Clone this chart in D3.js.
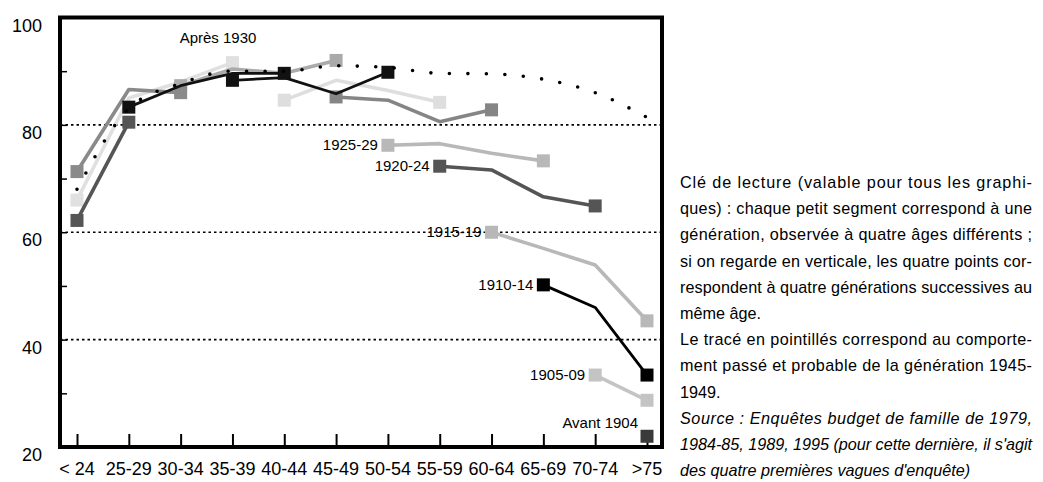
<!DOCTYPE html>
<html><head><meta charset="utf-8">
<script src="https://cdn.jsdelivr.net/npm/d3@7"></script>
<style>
html,body{margin:0;padding:0;background:#fff;}
svg{display:block;font-family:"Liberation Sans",Arial,sans-serif;}
</style></head>
<body><svg id="c" width="1043" height="482"></svg>
<script>
// ---- data ----
const ages = ["< 24","25-29","30-34","35-39","40-44","45-49","50-54","55-59","60-64","65-69","70-74",">75"];
const yTicks = [20,40,60,80,100];
const yMinor = [30,50,70,90];
const gridVals = [40,60,80];
const generations = ["Avant 1904","1905-09","1910-14","1915-19","1920-24","1925-29","1930-34","1935-39","1940-44","1945-49","1950-54","1955-59","1960-64","1965-69"];
const startAge = [11,10,9,8,7,6,5,4,3,2,1,0,0,0];
const genValues = [
  [22],
  [33.4,28.7],
  [50.2,46,33.4],
  [60,57,53.9,43.5],
  [72.3,71.6,66.6,64.9],
  [76.2,76.5,74.7,73.3],
  [85.2,84.6,80.6,82.8],
  [84.6,88.3,86.4,84.2],
  [88.3,88.8,85.8,89.8],
  [87.3,90.4,89.6,92],
  [83.3,87.3,89.6,89.6],
  [66,85,88,91.6],
  [71.3,86.6,86],
  [62.2,80.5]
];
const genColors = ["#3a3a3a","#c4c4c4","#000000","#b8b8b8","#555555","#b8b8b8","#858585","#dedede","#111111","#aaaaaa","#111111","#e0e0e0","#8a8a8a","#555555"];
const labelled = [true,true,true,true,true,true,false,false,false,false,false,false,false,false];
const dotted1945 = [68,83,87.7,90.0,90.0,91.0,90.7,89.6,89.5,88.5,86,81.4];
const groupLabel = "Après 1930";
const noteLines = [
  {t:"Clé de lecture (valable pour tous les graphi-", j:true, i:false},
  {t:"ques) : chaque petit segment correspond à une", j:true, i:false},
  {t:"génération, observée à quatre âges différents ;", j:true, i:false},
  {t:"si on regarde en verticale, les quatre points cor-", j:true, i:false},
  {t:"respondent à quatre générations successives au", j:true, i:false},
  {t:"même âge.", j:false, i:false},
  {t:"Le tracé en pointillés correspond au comporte-", j:true, i:false},
  {t:"ment passé et probable de la génération 1945-", j:true, i:false},
  {t:"1949.", j:false, i:false},
  {t:"Source : Enquêtes budget de famille de 1979,", j:true, i:true},
  {t:"1984-85, 1989, 1995 (pour cette dernière, il s'agit", j:true, i:true},
  {t:"des quatre premières vagues d'enquête)", j:false, i:true}
];

// ---- layout ----
const svg = d3.select("#c");
const L = 60, R = 662, T = 17.5, B = 447;
const x = d3.scalePoint().domain(ages).range([77, 647]);
const y = d3.scaleLinear().domain([20,100]).range([B, T]);

svg.append("rect").attr("width",1043).attr("height",482).attr("fill","#fff");

// gridlines
svg.append("g").selectAll("line").data(gridVals).join("line")
  .attr("x1",L).attr("x2",R).attr("y1",d=>y(d)).attr("y2",d=>y(d))
  .attr("stroke","#000").attr("stroke-width",1.6).attr("stroke-dasharray","2.5,3");

// y axis with minor ticks (inward)
const yAxis = d3.axisRight(y).tickValues(yTicks.concat(yMinor)).tickSize(7).tickFormat("");
const gy = svg.append("g").attr("transform",`translate(${L},0)`).call(yAxis);
gy.select(".domain").remove();
gy.selectAll("line").attr("stroke","#000").attr("stroke-width",1.5);

// y labels
svg.append("g").selectAll("text").data(yTicks).join("text")
  .attr("x",42).attr("y",d=>y(d)+14).attr("text-anchor","end")
  .attr("font-size",18).attr("fill","#000").text(d=>d);

// x axis ticks (inward, upward)
const xAxis = d3.axisTop(x).tickSize(13).tickFormat("");
const gx = svg.append("g").attr("transform",`translate(0,${B})`).call(xAxis);
gx.select(".domain").remove();
gx.selectAll("line").attr("stroke","#000").attr("stroke-width",2);

svg.append("g").selectAll("text").data(ages).join("text")
  .attr("x",d=>x(d)).attr("y",475).attr("text-anchor","middle")
  .attr("font-size",18).attr("fill","#000").text(d=>d);

// series lines
const line = d3.line().x(d=>x(ages[d.a])).y(d=>y(d.v));
const order = [11,7,1,3,5,9,12,6,13,4,0,2,8,10];
const gS = svg.append("g");
order.forEach(i=>{
  const pts = genValues[i].map((v,k)=>({a:startAge[i]+k, v}));
  const black = genColors[i]==="#000000"||genColors[i]==="#111111";
  if(pts.length>1){
    gS.append("path").datum(pts).attr("d",line).attr("fill","none")
      .attr("stroke",genColors[i]).attr("stroke-width",black?2.8:3.6).attr("stroke-linejoin","round");
  }
  const ends = pts.length>1 ? [pts[0],pts[pts.length-1]] : [pts[0]];
  gS.selectAll(null).data(ends).join("rect")
    .attr("x",d=>x(ages[d.a])-6.5).attr("y",d=>y(d.v)-6.5)
    .attr("width",13).attr("height",13).attr("fill",genColors[i]);
});

// dotted trajectory of the 1945-49 generation
const dl = d3.line().x((d,k)=>x(ages[k])).y(d=>y(d)).curve(d3.curveMonotoneX);
svg.append("path").datum(dotted1945).attr("d",dl).attr("fill","none")
  .attr("stroke","#000").attr("stroke-width",3.6).attr("stroke-linecap","round")
  .attr("stroke-dasharray","0,18.5");

// generation labels
const lab = svg.append("g").attr("font-size",15).attr("fill","#000");
generations.forEach((g,i)=>{
  if(!labelled[i]) return;
  const px = x(ages[startAge[i]]), py = y(genValues[i][0]);
  const above = (i===0);
  lab.append("text").attr("x",px-(above?9:10)).attr("y",above?py-8:py+5)
    .attr("text-anchor","end").text(g);
});
lab.append("text").attr("x",218).attr("y",43).attr("text-anchor","middle").text(groupLabel);

// frame
svg.append("rect").attr("x",L).attr("y",T).attr("width",R-L).attr("height",B-T)
  .attr("fill","none").attr("stroke","#000").attr("stroke-width",4);

// note text
const nt = svg.append("g").attr("font-size",16.2).attr("fill","#000");
noteLines.forEach((l,k)=>{
  const t = nt.append("text").attr("x",680).attr("y",188+k*26.2).text(l.t);
  if(l.i) t.attr("font-style","italic");
  if(l.j) t.attr("textLength",352).attr("lengthAdjust","spacing");
});
</script></body></html>
